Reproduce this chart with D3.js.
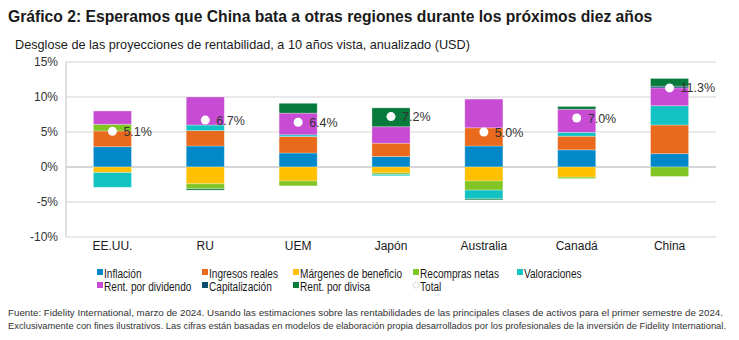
<!DOCTYPE html>
<html>
<head>
<meta charset="utf-8">
<script src="https://cdn.jsdelivr.net/npm/d3@7"></script>
<style>
  body { margin: 0; background: #fff; }
  svg { font-family: "Liberation Sans", Arial, sans-serif; }
</style>
</head>
<body>
<div id="chart"></div>
<script>
var w = 739;
var h = 340;

// Regions and the return components (percentage points, annualised)
var regions = ["EE.UU.", "RU", "UEM", "Japón", "Australia", "Canadá", "China"];
var series = ["Inflación", "Ingresos reales", "Márgenes de beneficio", "Recompras netas",
              "Valoraciones", "Rent. por dividendo", "Capitalización", "Rent. por divisa"];
var colors = ["#0088c9", "#e96a1c", "#ffc000", "#80c524", "#13c3c3", "#c84bd4", "#0d4e70", "#087a3c"];

var inflacion     = [2.9, 3.0, 2.0, 1.5, 3.0, 2.45, 1.9];
var ingresos      = [2.25, 2.2, 2.35, 1.9, 2.6, 1.95, 4.1];
var margenes      = [-0.8, -2.4, -2.0, -0.85, -2.0, -1.45, 0];
var recompras     = [0.95, -0.7, -0.7, -0.2, -1.3, -0.2, -1.35];
var valoraciones  = [-2.1, 0.8, 0.25, -0.2, -1.25, 0.55, 2.75];
var dividendo     = [1.9, 4.0, 3.1, 2.35, 4.1, 3.3, 2.55];
var capitalizacion = [0, 0, 0, 0, 0, 0, 0.25];
var divisa        = [0, -0.2, 1.4, 2.7, -0.15, 0.4, 1.1];
var totals        = [5.1, 6.7, 6.4, 7.2, 5.0, 7.0, 11.3];

var yTicks = [-10, -5, 0, 5, 10, 15];

var values = [inflacion, ingresos, margenes, recompras, valoraciones, dividendo, capitalizacion, divisa];

var svg = d3.select("#chart").append("svg")
    .attr("width", w)
    .attr("height", h);

// Title and subtitle
svg.append("text")
    .attr("x", 8).attr("y", 22)
    .style("font-size", "15.7px").style("font-weight", "bold").attr("fill", "#1a1a1a")
    .text("Gráfico 2: Esperamos que China bata a otras regiones durante los próximos diez años");

svg.append("text")
    .attr("x", 15).attr("y", 49)
    .style("font-size", "12.7px").attr("fill", "#1a1a1a")
    .text("Desglose de las proyecciones de rentabilidad, a 10 años vista, anualizado (USD)");

var xScale = d3.scaleBand()
    .domain(regions)
    .range([66, 716])
    .paddingInner(0.59)
    .paddingOuter(0.295);

var yScale = d3.scaleLinear()
    .domain([-10, 15])
    .range([237, 62]);

// Grid lines
svg.append("g").selectAll("line")
    .data(yTicks)
    .enter().append("line")
    .attr("x1", 66).attr("x2", 716)
    .attr("y1", function(d) { return yScale(d); })
    .attr("y2", function(d) { return yScale(d); })
    .attr("stroke", function(d) { return d === 0 ? "#c8c8cc" : "#e2e2e2"; })
    .attr("stroke-width", 1.5);

// Left axis line
svg.append("line")
    .attr("x1", 66).attr("x2", 66)
    .attr("y1", yScale(15)).attr("y2", yScale(-10))
    .attr("stroke", "#d6d6d6").attr("stroke-width", 1.5);

// Y axis labels
var yAxis = svg.append("g")
    .attr("transform", "translate(58,0)")
    .call(d3.axisLeft(yScale).tickValues(yTicks).tickSize(0).tickPadding(0)
        .tickFormat(function(d) { return d + "%"; }));
yAxis.select(".domain").remove();
yAxis.selectAll("text")
    .style("font-size", "12px").style("font-family", "Liberation Sans, Arial, sans-serif")
    .attr("fill", "#333");

// X axis labels
var xAxis = svg.append("g")
    .attr("transform", "translate(0,241)")
    .call(d3.axisBottom(xScale).tickSize(0).tickPadding(0));
xAxis.select(".domain").remove();
xAxis.selectAll("text")
    .style("font-size", "12px").style("font-family", "Liberation Sans, Arial, sans-serif")
    .attr("fill", "#1a1a1a");

// Stack positives upward and negatives downward, in series order
var segments = [];
regions.forEach(function(r, i) {
    var pos = 0, neg = 0;
    values.forEach(function(arr, s) {
        var v = arr[i];
        if (v > 0) { segments.push({ region: r, s: s, y0: pos, y1: pos + v }); pos += v; }
        else if (v < 0) { segments.push({ region: r, s: s, y0: neg, y1: neg + v }); neg += v; }
    });
});

svg.append("g").selectAll("rect")
    .data(segments)
    .enter().append("rect")
    .attr("x", function(d) { return xScale(d.region); })
    .attr("width", xScale.bandwidth())
    .attr("y", function(d) { return yScale(Math.max(d.y0, d.y1)); })
    .attr("height", function(d) { return Math.abs(yScale(d.y0) - yScale(d.y1)); })
    .attr("fill", function(d) { return colors[d.s]; })
    .attr("stroke", "#ffffff").attr("stroke-opacity", 0.35).attr("stroke-width", 0.8);

// Total markers and labels
var totalG = svg.append("g").selectAll("g")
    .data(regions)
    .enter().append("g");

totalG.append("circle")
    .attr("cx", function(d) { return xScale(d) + xScale.bandwidth() / 2; })
    .attr("cy", function(d, i) { return yScale(totals[i]); })
    .attr("r", 4.5)
    .attr("fill", "#fff");

totalG.append("text")
    .attr("x", function(d) { return xScale(d) + xScale.bandwidth() / 2 + 11; })
    .attr("y", function(d, i) { return yScale(totals[i]) + 4.5; })
    .style("font-size", "12.5px").attr("fill", "#333")
    .text(function(d, i) { return totals[i].toFixed(1) + "%"; });

// Legend
var legendX = [97, 202, 293, 413, 517];
var legendItems = series.map(function(s, i) { return { name: s, color: colors[i] }; });
legendItems.push({ name: "Total", color: null });

var legend = svg.append("g").selectAll("g")
    .data(legendItems)
    .enter().append("g")
    .attr("transform", function(d, i) {
        return "translate(" + legendX[i % 5] + "," + (i < 5 ? 278 : 291) + ")";
    });

legend.filter(function(d) { return d.color; }).append("rect")
    .attr("x", 0).attr("y", -9).attr("width", 6).attr("height", 6)
    .attr("fill", function(d) { return d.color; });

legend.filter(function(d) { return !d.color; }).append("circle")
    .attr("cx", 3).attr("cy", -6).attr("r", 3)
    .attr("fill", "none").attr("stroke", "#bbb").attr("stroke-width", 1)
    .attr("stroke-dasharray", "1.5,1");

// legend text is set in a narrower face, so squeeze it a little
legend.append("text")
    .attr("x", 7).attr("y", 0)
    .style("font-size", "12px").attr("fill", "#1a1a1a")
    .text(function(d) { return d.name; })
    .each(function() {
        d3.select(this)
            .attr("textLength", this.getComputedTextLength() * 0.84)
            .attr("lengthAdjust", "spacingAndGlyphs");
    });

// Source note
var notes = [
    "Fuente: Fidelity International, marzo de 2024. Usando las estimaciones sobre las rentabilidades de las principales clases de activos para el primer semestre de 2024.",
    "Exclusivamente con fines ilustrativos. Las cifras están basadas en modelos de elaboración propia desarrollados por los profesionales de la inversión de Fidelity International."
];
svg.append("g").selectAll("text")
    .data(notes)
    .enter().append("text")
    .attr("x", 8)
    .attr("y", function(d, i) { return 316 + i * 13; })
    .attr("textLength", function(d, i) { return i === 0 ? 715 : 718; })
    .attr("lengthAdjust", "spacingAndGlyphs")
    .style("font-size", "9px").attr("fill", "#333")
    .text(function(d) { return d; });
</script>
</body>
</html>
